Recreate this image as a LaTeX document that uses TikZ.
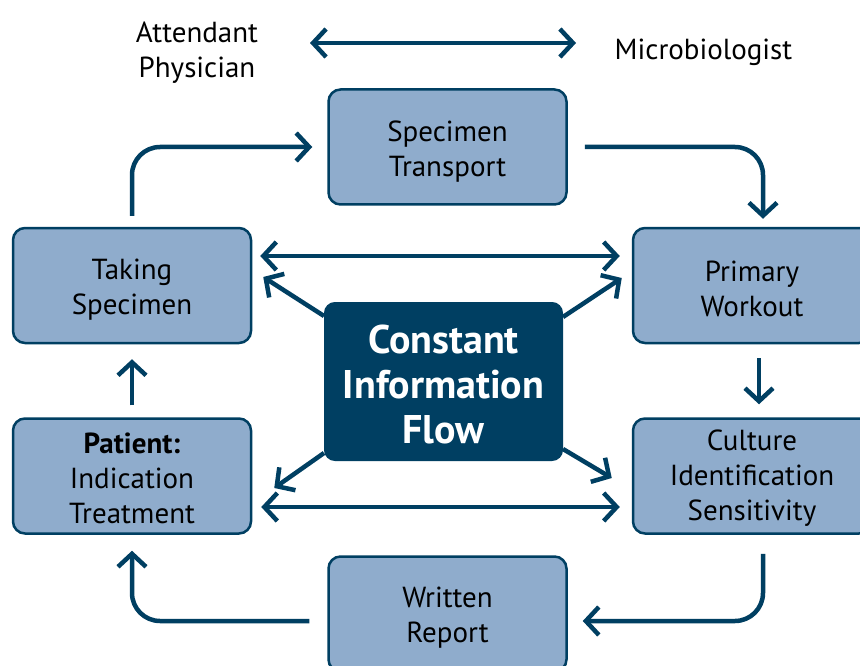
\documentclass[tikz,border=0pt]{standalone}
\usepackage{fontspec}
\setmainfont{PT Sans}
\usetikzlibrary{arrows.meta}
\definecolor{dk}{RGB}{0,63,98}
\definecolor{lb}{RGB}{143,172,204}
\newcommand\lift[1]{\rule{0pt}{#1}}
\begin{document}
\begin{tikzpicture}[x=1pt,y=-1pt,
  box/.style={draw=dk, line width=2.5pt, fill=lb, rounded corners=12pt,
    minimum width=238pt, minimum height=115pt, align=center, inner sep=0pt,
    font=\fontsize{29}{35}\selectfont},
  hub/.style={fill=dk, draw=dk, line width=2pt, rounded corners=10pt,
    minimum width=237pt, minimum height=157pt, align=center, inner sep=0pt,
    text=white, font=\fontsize{40}{45}\selectfont\bfseries},
  lab/.style={align=center, inner sep=0pt, font=\fontsize{29}{35}\selectfont},
  flow/.style={draw=dk, line width=4.5pt, rounded corners=28pt,
    -{Straight Barb[length=13pt,width=28pt]}},
  both/.style={draw=dk, line width=4.5pt,
    {Straight Barb[length=13pt,width=28pt]}-{Straight Barb[length=13pt,width=28pt]}}]
\clip (0,0) rectangle (860,666);
\fill[white] (0,0) rectangle (860,666);

\node[box] (take) at (132,285.5) {\lift{29pt}Taking\\Specimen};
\node[box] (trans) at (447.5,147) {\lift{30pt}Specimen\\Transport};
\node[box] (prim) at (752,285.5) {\lift{28pt}Primary\\Workout};
\node[box] (pat) at (132,476) {\lift{25pt}\textbf{Patient:}\\Indication\\Treatment};
\node[box] (cult) at (752,476) {\lift{25pt}Culture\\Identification\\Sensitivity};
\node[box] (rep) at (447.5,614) {\lift{28pt}Written\\Report};
\node[hub] (hub) at (443.5,381.5) {\lift{34pt}Constant\\Information\\Flow};
\node[lab] (att) at (197,53) {Attendant\\Physician};
\node[lab] (mic) at (703.5,52) {Microbiologist};
\coordinate (tl) at (310,43);
\coordinate (tr) at (576,43);

\draw[both] (tl) -- (tr);
\draw[flow] ([yshift=11pt]take.north) |- ([xshift=-15pt]trans.west);
\draw[flow] ([xshift=17pt]trans.east) -| ([xshift=11pt,yshift=8pt]prim.north);
\draw[flow] ([xshift=7pt,yshift=-14pt]prim.south) -- ([xshift=7pt,yshift=13pt]cult.north);
\draw[flow] ([xshift=11pt,yshift=-19pt]cult.south) |- ([xshift=15pt,yshift=-7pt]rep.east);
\draw[flow] ([xshift=-18pt,yshift=-7pt]rep.west) -| ([yshift=-16pt]pat.south);
\draw[flow] ([yshift=12pt]pat.north) -- ([yshift=-15pt]take.south);
\draw[both] ([xshift=8pt,yshift=29.5pt]take.east) -- ([xshift=-12pt,yshift=29.5pt]prim.west);
\draw[both] ([xshift=9pt,yshift=-31pt]pat.east) -- ([xshift=-12pt,yshift=-31pt]cult.west);
\draw[flow] ([yshift=-14pt]hub.north west) -- ([xshift=11pt,yshift=8.5pt]take.east);
\draw[flow] ([yshift=-15pt]hub.north east) -- ([xshift=-10pt,yshift=7.5pt]prim.west);
\draw[flow] ([yshift=12pt]hub.south east) -- ([xshift=-20pt,yshift=-2pt]cult.west);
\draw[flow] ([yshift=8pt]hub.south west) -- ([xshift=22pt,yshift=-12pt]pat.east);
\end{tikzpicture}
\end{document}
